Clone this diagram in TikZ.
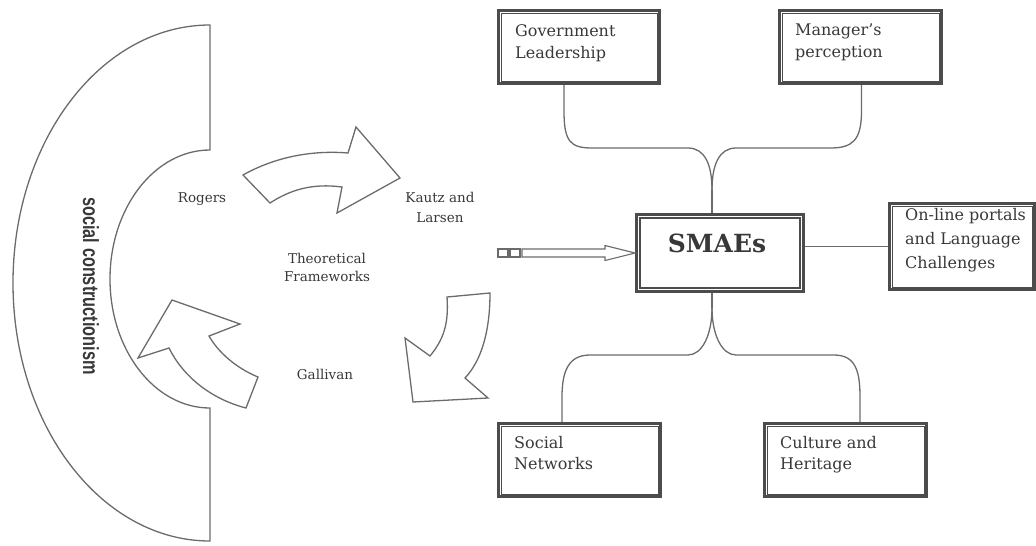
\documentclass[tikz,border=0pt]{standalone}
\usepackage{fontspec}
\setmainfont{DejaVu Serif}
\newfontfamily\scfont{Liberation Sans}
\usetikzlibrary{calc}
\definecolor{textc}{gray}{0.22}
\definecolor{linec}{gray}{0.42}
\definecolor{framec}{gray}{0.3}
\begin{document}
\begin{tikzpicture}[x=1pt,y=-1pt,
  conn/.style={draw=linec, line width=1.3pt},
  shapeline/.style={draw=linec, line width=1.3pt, line join=miter},
  frame/.style={draw=framec, line width=3pt, minimum width=#1, minimum height=73pt, anchor=north west, inner sep=0pt},
  boxtext/.style={anchor=north west, inner sep=0pt, align=left, text=textc, font=\rmfamily\fontsize{16}{22}\selectfont},
  small/.style={inner sep=0pt, text=textc, font=\rmfamily\fontsize{13.5}{18}\selectfont, align=center}
]
\useasboundingbox (0,0) rectangle (1036,546);

% half ring
\draw[shapeline] (210,25) -- (210,150)
  arc[start angle=270, end angle=90, x radius=100, y radius=129]
  -- (210,541)
  arc[start angle=90, end angle=270, x radius=197, y radius=258] -- cycle;
\node[rotate=-90, inner sep=0pt, text=textc, font=\scfont\bfseries\fontsize{22}{22}\selectfont] (sc) at (91,286) {\scalebox{0.74}[1]{social constructionism}};

% curved block arrows
\draw[shapeline] (243,175) .. controls (275,157) and (312,150) .. (348,153) -- (356,127) -- (400,178) -- (337,213) -- (342,187) .. controls (312,183) and (290,190) .. (270,203) -- cycle;
\draw[shapeline] (447,297) .. controls (449,325) and (443,340) .. (430,356) -- (405,338) -- (413,402) -- (488,398) -- (465,378) .. controls (482,360) and (490,330) .. (490,293) -- cycle;
\draw[shapeline] (172,300) -- (240,324) -- (209,336) .. controls (218,352) and (236,368) .. (258,377) -- (246,408) .. controls (215,400) and (185,380) .. (169,348) -- (138,358) -- cycle;

% small labels
\node[small] (rogers) at (202,199) {Rogers};
\node[small, font=\rmfamily\fontsize{13.5}{20}\selectfont] (kautz) at (440,207) {Kautz and\\Larsen};
\node[small] (theo) at (327,267) {Theoretical\\Frameworks};
\node[small] (gall) at (325,374) {Gallivan};

% boxes
\node[frame=161pt] (gov) at (497,9) {};
\node[frame=162pt] (man) at (778,9) {};
\node[frame=145pt, minimum height=86pt] (online) at (888,202) {};
\node[frame=167pt, minimum height=77pt] (smaes) at (635,213) {};
\node[frame=162pt] (soc) at (497,422) {};
\node[frame=162pt] (cult) at (763,422) {};
\foreach \n/\d in {gov/4,man/4,online/4,soc/4,cult/4}
  \draw[draw=framec, line width=1pt] ([shift={(\d,\d)}]\n.north west) rectangle ([shift={(-\d,-\d)}]\n.south east);
\draw[draw=framec, line width=1.6pt] ([shift={(5,5)}]smaes.north west) rectangle ([shift={(-5,-5)}]smaes.south east);

\node[boxtext] (govt) at ([shift={(18,15)}]gov.north west) {Government\\Leadership};
\node[boxtext] (mant) at ([shift={(17,15)}]man.north west) {Manager's\\perception};
\node[boxtext, font=\rmfamily\fontsize{16}{24}\selectfont] (onlinet) at ([shift={(17,6)}]online.north west) {On-line portals\\and Language\\Challenges};
\node[boxtext, font=\rmfamily\fontsize{16}{21}\selectfont] (soct) at ([shift={(17,14)}]soc.north west) {Social\\Networks};
\node[boxtext, font=\rmfamily\fontsize{16}{21}\selectfont] (cultt) at ([shift={(17,14)}]cult.north west) {Culture and\\Heritage};
\node[inner sep=0pt, text=textc, font=\rmfamily\bfseries\fontsize{25}{25}\selectfont] (smaest) at (717,243.5) {SMAEs};

% connectors
\coordinate (jt) at (712,190);
\coordinate (jb) at (712,308);
\draw[conn] ([xshift=-15pt]gov.south) -- ++(0,26) .. controls +(0,30) and (570,148) .. (592,148) -- (688,148) .. controls (705,148) and (712,165) .. (jt);
\draw[conn] ([xshift=1pt]man.south) -- ++(0,26) .. controls +(0,30) and (852,148) .. (830,148) -- (736,148) .. controls (719,148) and (712,165) .. (jt);
\draw[conn] (jt) -- (jt |- smaes.north);
\draw[conn] (smaes.south -| jb) -- (jb);
\draw[conn] (jb) .. controls (712,335) and (702,355) .. (688,355) -- (590,355) .. controls (568,355) and (562,372) .. (562,397) -- (soc.north -| 562,0);
\draw[conn] (jb) .. controls (712,335) and (722,355) .. (736,355) -- (834,355) .. controls (856,355) and (860,372) .. (860,397) -- (cult.north -| 860,0);
\draw[conn] (online.west -| smaes.east) -- (online.west);

% hollow arrow into SMAEs
\draw[draw=linec, line width=1.1pt] (smaes.west) -- ++(-30,-7.5) -- ++(0,3.5) -- ++(-83,0) -- ++(0,8) -- ++(83,0) -- ++(0,3.5) -- cycle;
\draw[draw=linec, line width=1.1pt] ([shift={(-137,-4)}]smaes.west) rectangle ++(10,8);
\draw[draw=linec, line width=1.1pt] ([shift={(-125,-4)}]smaes.west) rectangle ++(10,8);
\end{tikzpicture}
\end{document}
